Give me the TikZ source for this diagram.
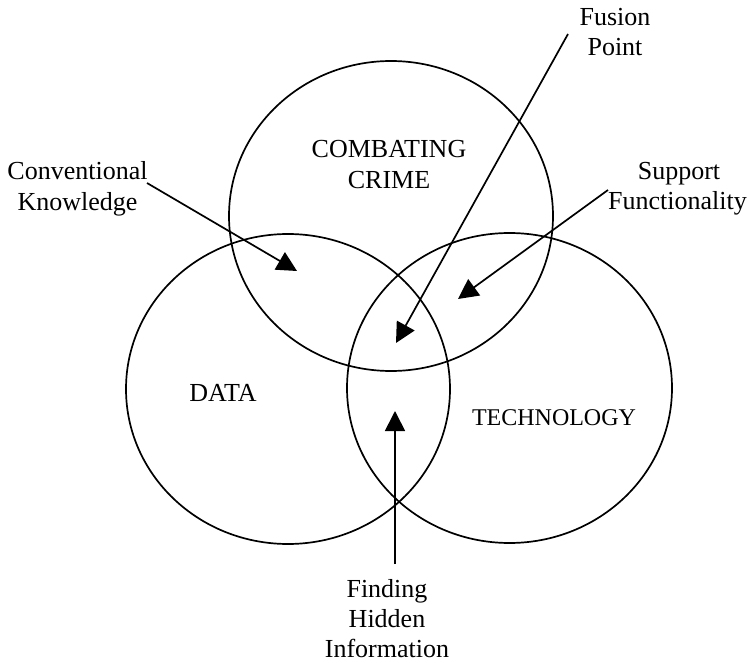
\documentclass[tikz,border=0pt]{standalone}
\usepackage{fontspec}
\setmainfont{Liberation Serif}
\usetikzlibrary{arrows.meta}
\begin{document}
\begin{tikzpicture}[x=1pt,y=-1pt,
  ring/.style={line width=1.7pt},
  pointer/.style={line width=1.7pt,-{Triangle[length=20pt,width=20pt]}},
  lbl/.style={anchor=base,inner sep=0pt,font=\fontsize{26}{30}\selectfont},
  lblsmall/.style={anchor=base,inner sep=0pt,font=\fontsize{24}{28}\selectfont}]
  \useasboundingbox (0,0) rectangle (750,663);

  % the three overlapping sets
  \coordinate (crime) at (391,216);
  \coordinate (data) at (288,389);
  \coordinate (tech) at (509.5,388);
  \draw[ring] (crime) ellipse [x radius=162pt, y radius=155pt];
  \draw[ring] (data) ellipse [x radius=162pt, y radius=155pt];
  \draw[ring] (tech) ellipse [x radius=162.5pt, y radius=155pt];

  % set names
  \node[lbl] (crime1) at (389,158) {COMBATING};
  \node[lbl] (crime2) at (389,189) {CRIME};
  \node[lbl] (dataname) at (223,401) {DATA};
  \node[lblsmall] (techname) at (554,425) {TECHNOLOGY};

  % callout labels
  \node[lbl] (conv1) at (77.5,180) {Conventional};
  \node[lbl] (conv2) at (77.5,211) {Knowledge};
  \node[lbl] (fus1) at (615,26) {Fusion};
  \node[lbl] (fus2) at (615,56) {Point};
  \node[lbl] (sup1) at (679,180) {Support};
  \node[lbl] (sup2) at (677.5,210) {Functionality};
  \node[lbl] (find1) at (387,597) {Finding};
  \node[lbl] (find2) at (387,627) {Hidden};
  \node[lbl] (find3) at (387,657) {Information};

  % arrow ends
  \coordinate (convfrom) at (147,183);
  \coordinate (convto) at (297,271);
  \coordinate (fusfrom) at (568,34);
  \coordinate (custo) at (396,343);
  \coordinate (supfrom) at (608,190);
  \coordinate (supto) at (458,299);
  \coordinate (findfrom) at (395,564);
  \coordinate (findto) at (395,411);

  \draw[pointer] (convfrom) -- (convto);
  \draw[pointer] (fusfrom) -- (custo);
  \draw[pointer] (supfrom) -- (supto);
  \draw[pointer] (findfrom) -- (findto);
\end{tikzpicture}
\end{document}
